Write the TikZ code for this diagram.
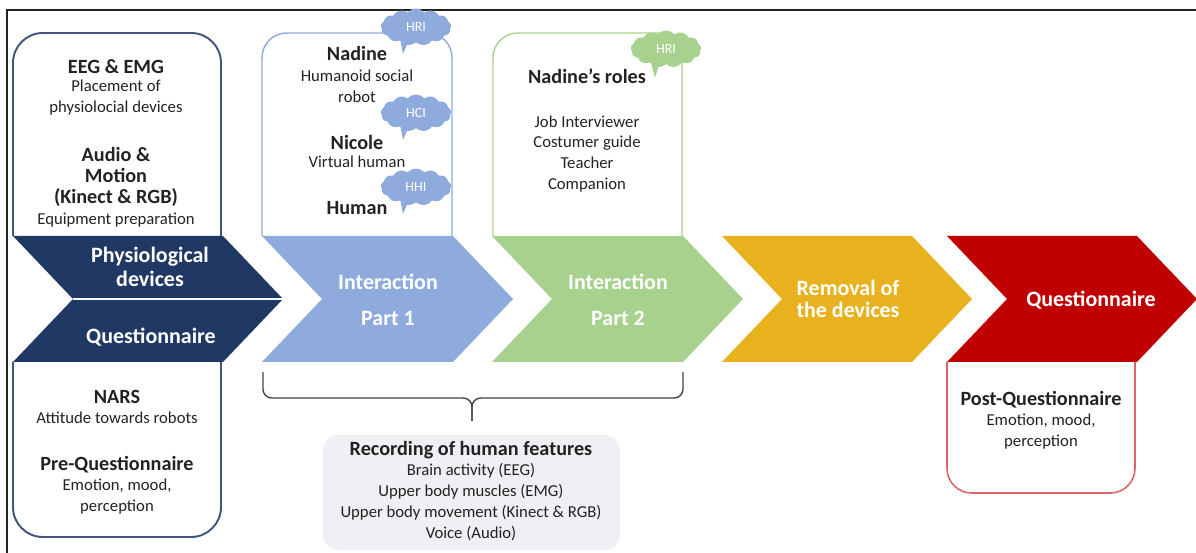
\documentclass[tikz,border=0pt]{standalone}
\usepackage{fontspec}
\setmainfont{Carlito}
\usetikzlibrary{calc, shapes.symbols}

\definecolor{nv}{HTML}{203864}
\definecolor{lb}{HTML}{8FAADC}
\definecolor{lg}{HTML}{A9D18E}
\definecolor{gd}{HTML}{E8B21E}
\definecolor{rd}{HTML}{C00000}
\definecolor{rl}{HTML}{DD6464}
\definecolor{gr}{HTML}{EFEFF4}
\definecolor{tx}{HTML}{222222}

\begin{document}
\begin{tikzpicture}[x=0.02cm, y=-0.02cm,
		small/.style={align=center, text=tx, inner sep=0pt, font=\fontsize{9.5}{11.9}\selectfont},
		head/.style={align=center, text=tx, inner sep=0pt, font=\fontsize{11.5}{12.3}\selectfont\bfseries},
		steptext/.style={align=center, text=white, inner sep=0pt, font=\fontsize{12.5}{13.6}\selectfont\bfseries},
		bubble/.style={cloud, cloud puffs=13, cloud puff arc=100, aspect=1.9, inner sep=0pt, minimum width=40pt,
				minimum height=21pt, fill=#1, text=white, font=\fontsize{8}{8.5}\selectfont}]

	\useasboundingbox (0,0) rectangle (1196,553);
	\draw[tx, line width=1.1pt] (7,553) -- (7,10) -- (1196,10);

	% boxes above and below the steps
	\draw[nv!85, line width=1.1pt, rounded corners=17pt] (13,236) -- (13,33) -- (221,33) -- (221,236);
	\draw[nv!85, line width=1.1pt, rounded corners=17pt] (13,362) -- (13,537) -- (221,537) -- (221,362);
	\draw[lb, line width=0.8pt, rounded corners=14pt] (262,236) -- (262,33) -- (452,33) -- (452,236);
	\draw[lg, line width=0.8pt, rounded corners=14pt] (493,236) -- (493,33) -- (682,33) -- (682,236);
	\draw[rl, line width=0.9pt, rounded corners=14pt] (947,362) -- (947,493) -- (1135,493) -- (1135,362);

	% the five steps
	\foreach \x/\w/\c in {13/210/nv, 262/191/lb, 492/191/lg, 722/190/gd, 947/190/rd} {
			\fill[\c] (\x,236) -- ++(\w,0) -- ++(60,63) -- ++(-60,63) -- ++(-\w,0) -- ++(60,-63) -- cycle;
		}
	\draw[white, line width=0.7pt] (73,299) -- (283,299);

	\node[steptext] (phys) at (150,267) {Physiological\\devices};
	\node[steptext] (prequest) at (151,337) {Questionnaire};
	\node[steptext] (part1) at (388,300) {Interaction\\[7pt]Part 1};
	\node[steptext] (part2) at (618,300) {Interaction\\[7pt]Part 2};
	\node[steptext] (removal) at (848,299) {Removal of\\[-1pt]the devices};
	\node[steptext] (postquest) at (1091,300) {Questionnaire};

	% preparation
	\node[head] (eeg) at (116,67) {EEG \& EMG};
	\node[small] (eegtxt) at (116,98) {Placement of\\physiolocial devices};
	\node[head] (audio) at (116,177) {Audio \&\\[-0.2pt]Motion\\[-0.2pt](Kinect \& RGB)};
	\node[small] (audiotxt) at (116,220) {Equipment preparation};

	\node[head] (nars) at (117,397) {NARS};
	\node[small] (narstxt) at (117,418) {Attitude towards robots};
	\node[head] (pre) at (117,465) {Pre-Questionnaire};
	\node[small] (pretxt) at (117,497) {Emotion, mood,\\perception};

	% partners and roles
	\node[head] (nadine) at (357,53) {Nadine};
	\node[small] (nadinetxt) at (357,86) {Humanoid social\\robot};
	\node[head] (nicole) at (357,142) {Nicole};
	\node[small] (nicoletxt) at (357,162) {Virtual human};
	\node[head] (human) at (357,208) {Human};

	\node[head] (roles) at (587,76) {Nadine’s roles};
	\node[small] (rolestxt) at (587,154) {Job Interviewer\\Costumer guide\\Teacher\\Companion};

	\node[head] (post) at (1041,400) {Post-Questionnaire};
	\node[small] (posttxt) at (1041,432) {Emotion, mood,\\perception};

	% thought clouds
	\node[bubble=lb] (hri) at (416,27) {HRI};
	\node[bubble=lb] (hci) at (416,113) {HCI};
	\node[bubble=lb] (hhi) at (416,187) {HHI};
	\node[bubble=lg] (hrib) at (666,49) {HRI};
	\foreach \n/\c/\tx/\ty in {hri/lb/403/54, hci/lb/403/140, hhi/lb/403/214, hrib/lg/655/78} {
			\fill[\c] ($(\n.center)+(-17,6)$) -- (\tx,\ty) -- ($(\n.center)+(-5,9)$) -- cycle;
		}

	% recording during both interaction parts
	\coordinate (bl) at (263,372);
	\coordinate (br) at (683,372);
	\coordinate (bm) at (472,398);
	\coordinate (bs) at (472,421);
	\draw[tx!85, line width=0.8pt, rounded corners=5pt] (bl) -- (bl |- bm) -- (bm) -- (bs);
	\draw[tx!85, line width=0.8pt, rounded corners=5pt] (br) -- (br |- bm) -- (bm) -- (bs);

	\fill[gr, rounded corners=9pt] (323,435) rectangle (620,550);
	\node[head] (rec) at (471,450) {Recording of human features};
	\node[small] (rectxt) at (471,502) {Brain activity (EEG)\\Upper body muscles (EMG)\\Upper body movement (Kinect \& RGB)\\Voice (Audio)};

\end{tikzpicture}
\end{document}
